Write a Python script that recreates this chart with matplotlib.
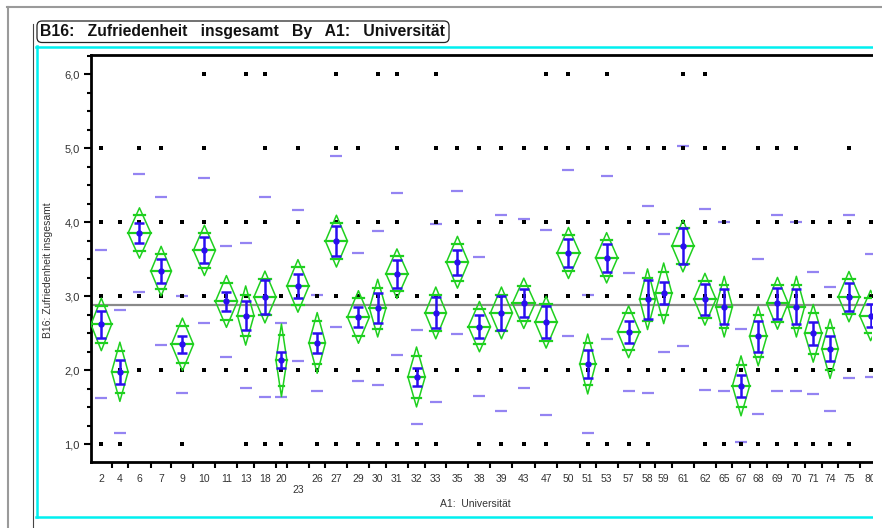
"""
JMP-style oneway plot: B16 Zufriedenheit insgesamt by A1 Universität.
"""

import numpy as np
import matplotlib.pyplot as plt
import matplotlib.patches as mpatches
from matplotlib.lines import Line2D
from matplotlib.transforms import IdentityTransform
from matplotlib.ticker import MultipleLocator, FixedLocator

plt.rcParams["font.family"] = ["Liberation Sans", "DejaVu Sans"]

# ── Data ─────────────────────────────────────────────────────────────────────

universities = ["2", "4", "6", "7", "9", "10", "11", "13", "18", "20",
                "23", "26", "27", "29", "30", "31", "32", "33", "35", "38",
                "39", "43", "47", "50", "51", "53", "57", "58", "59", "61",
                "62", "65", "67", "68", "69", "70", "71", "74", "75", "80"]

group_n = [30, 24, 33, 30, 32, 32, 32, 24, 32, 16,
           32, 24, 32, 32, 24, 32, 25, 31, 32, 32,
           32, 33, 32, 33, 23, 32, 32, 23, 24, 32,
           32, 24, 25, 25, 31, 24, 25, 24, 31, 32]

means = [2.62, 1.98, 3.855, 3.34, 2.35, 3.62, 2.93, 2.74, 2.99, 2.135,
         3.14, 2.37, 3.745, 2.72, 2.84, 3.305, 1.91, 2.775, 3.46, 2.59,
         2.775, 2.905, 2.65, 3.585, 2.085, 3.52, 2.52, 2.96, 3.04, 3.68,
         2.96, 2.86, 1.79, 2.46, 2.905, 2.86, 2.50, 2.29, 2.995, 2.74]

# half height of the 95% mean diamonds
ci_half = [0.355, 0.40, 0.34, 0.335, 0.355, 0.34, 0.35, 0.40, 0.35, 0.49,
           0.355, 0.41, 0.35, 0.355, 0.39, 0.335, 0.405, 0.35, 0.35, 0.34,
           0.35, 0.34, 0.35, 0.345, 0.405, 0.34, 0.35, 0.41, 0.41, 0.35,
           0.35, 0.41, 0.405, 0.40, 0.35, 0.41, 0.39, 0.40, 0.34, 0.34]

# mean error bars (std error)
se_half = [0.18, 0.16, 0.14, 0.16, 0.115, 0.175, 0.13, 0.19, 0.23, 0.11,
           0.165, 0.13, 0.205, 0.13, 0.20, 0.19, 0.12, 0.21, 0.17, 0.16,
           0.23, 0.19, 0.22, 0.19, 0.19, 0.19, 0.145, 0.265, 0.15, 0.245,
           0.21, 0.24, 0.15, 0.21, 0.21, 0.24, 0.155, 0.17, 0.19, 0.15]

std_dev = [1.0, 0.83, 0.795, 1.0, 0.66, 0.975, 0.75, 0.985, 1.345, 0.50,
           1.02, 0.645, 1.155, 0.865, 1.045, 1.095, 0.64, 1.205, 0.965, 0.94,
           1.32, 1.14, 1.25, 1.12, 0.93, 1.10, 0.80, 1.26, 0.795, 1.345,
           1.22, 1.14, 0.765, 1.045, 1.19, 1.14, 0.825, 0.84, 1.105, 0.835]

# answer levels present in each group
responses = [[1, 3, 4, 5], [1, 2, 3, 4], [2, 3, 4, 5], [2, 3, 4, 5],
             [1, 2, 3, 4], [2, 3, 4, 5, 6], [2, 3, 4], [1, 2, 3, 4, 6],
             [1, 2, 3, 4, 5, 6], [1, 2, 3], [2, 3, 4, 5], [1, 2, 3],
             [1, 2, 3, 4, 5, 6], [1, 2, 3, 4, 5], [1, 2, 3, 4, 6],
             [1, 2, 3, 4, 5, 6], [1, 2, 3], [1, 2, 3, 4, 5, 6], [2, 3, 4, 5],
             [1, 2, 3, 4, 5], [1, 2, 3, 4, 5], [1, 2, 3, 4, 5],
             [1, 2, 3, 4, 5, 6], [2, 3, 4, 5, 6], [1, 2, 3, 4, 5],
             [1, 2, 3, 4, 5, 6], [1, 2, 3, 4, 5], [1, 2, 3, 4, 5], [2, 3, 4, 5],
             [2, 3, 4, 5, 6], [1, 2, 3, 4, 5, 6], [1, 2, 3, 4, 5], [1, 2, 3],
             [1, 2, 3, 4, 5], [1, 2, 3, 4, 5], [1, 2, 3, 4, 5], [1, 2, 3, 4],
             [1, 2, 3, 4], [1, 2, 3, 4, 5], [2, 3, 4]]

grand_mean = 2.886

y_ticks = [1, 2, 3, 4, 5, 6]
y_ticklabels = ["1,0", "2,0", "3,0", "4,0", "5,0", "6,0"]

# ── Colours ──────────────────────────────────────────────────────────────────

GREEN    = "#1fd01f"
BLUE     = "#2a0ef0"
LAVENDER = "#9484f2"
CYAN     = "#00f0f0"
GRAY     = "#8a8a8a"
TEXT     = "#333333"

# ── Figure ───────────────────────────────────────────────────────────────────

W, H = 882, 528


def fx(px):
    return px / W


def fy(py):
    return 1 - py / H


fig = plt.figure(figsize=(W / 100, H / 100), dpi=100)
fig.patch.set_facecolor("white")
ax = fig.add_axes([fx(91), fy(462), fx(872) - fx(91), fy(55) - fy(462)])

edges = np.concatenate([[0], np.cumsum(group_n)])
centers = (edges[:-1] + edges[1:]) / 2
m = np.array(means)

# std dev lines
ax.plot(centers, m + np.array(std_dev), ls="none", marker="_", ms=8,
        mew=1.6, color=LAVENDER, zorder=2)
ax.plot(centers, m - np.array(std_dev), ls="none", marker="_", ms=8,
        mew=1.6, color=LAVENDER, zorder=2)

# raw responses
for c, lv in zip(centers, responses):
    ax.plot([c] * len(lv), lv, ls="none", marker="s", ms=2.4, mew=0,
            color="black", zorder=3)

# grand mean
ax.axhline(grand_mean, color=GRAY, lw=1.6, zorder=1.5)

# mean diamonds
for x0, x1, mu, ci in zip(edges[:-1], edges[1:], means, ci_half):
    xc = (x0 + x1) / 2
    w = x1 - x0
    ax.plot([x0, xc, x1, xc, x0], [mu, mu + ci, mu, mu - ci, mu],
            color=GREEN, lw=1.1, zorder=4)
    ax.plot([x0, x1], [mu, mu], color=GREEN, lw=1.6, zorder=4)
    ov = ci / np.sqrt(2)
    for yy in (mu + ov, mu - ov):
        ax.plot([xc - w * 0.26, xc + w * 0.26], [yy, yy],
                color=GREEN, lw=1.6, zorder=4)

# mean error bars
ax.errorbar(centers, means, yerr=se_half, fmt="none", ecolor=BLUE,
            elinewidth=1.8, capsize=3.5, capthick=1.8, zorder=5)
ax.plot(centers, means, ls="none", marker="o", ms=4.6, mew=0,
        color=BLUE, zorder=6)

ax.set_xlim(0, 1136)
ax.set_ylim(0.761, 6.26)

# axes styling
for side in ("left", "top", "bottom"):
    ax.spines[side].set_linewidth(2.0)
    ax.spines[side].set_color("black")
ax.spines["right"].set_visible(False)

ax.yaxis.set_major_locator(FixedLocator(y_ticks))
ax.set_yticklabels(y_ticklabels, fontsize=8, color=TEXT)
ax.yaxis.set_minor_locator(MultipleLocator(0.25))
ax.tick_params(axis="y", which="major", length=5, width=1.5, pad=3)
ax.tick_params(axis="y", which="minor", length=3, width=1.5)

ax.xaxis.set_major_locator(FixedLocator(edges[1:-1]))
ax.xaxis.set_major_formatter(plt.NullFormatter())
ax.xaxis.set_minor_locator(FixedLocator(centers))
ax.set_xticklabels(["\n" + u if u == "23" else u for u in universities],
                   minor=True, fontsize=7.5, color=TEXT)
ax.tick_params(axis="x", which="major", length=4.5, width=1.5)
ax.tick_params(axis="x", which="minor", length=0, pad=8.5)

fig.text(fx(48), fy(270), "B16: Zufriedenheit insgesamt", rotation=90,
         ha="center", va="center", fontsize=7.5, color=TEXT)
fig.text(fx(475), fy(504), "A1:  Universität", ha="center", va="center",
         fontsize=7.5, color=TEXT)

# ── Report frame ─────────────────────────────────────────────────────────────

ident = IdentityTransform()


def frame_line(xs, ys, color, lw):
    fig.add_artist(Line2D(xs, [H - y for y in ys], color=color, lw=lw,
                          transform=ident))


# hide what runs past the report's right edge
fig.add_artist(mpatches.Rectangle((873, H - 520), 9, 480, facecolor="white",
                                  edgecolor="none", transform=ident,
                                  zorder=10))

frame_line([7, 882], [6.5, 6.5], "#9a9a9a", 1.5)
frame_line([7.5, 7.5], [6.5, 528], "#9a9a9a", 1.5)
frame_line([33, 33], [24, 528], "#444444", 0.8)
frame_line([36, 872], [46.5, 46.5], CYAN, 1.8)
frame_line([36.5, 36.5], [46, 517], CYAN, 1.8)
frame_line([36, 872], [517, 517], CYAN, 1.8)

title_box = mpatches.FancyBboxPatch(
    (37, H - 42.5), 412, 21.5,
    boxstyle="round,pad=0,rounding_size=5",
    facecolor="white", edgecolor="#222222", linewidth=0.9,
    transform=ident)
fig.add_artist(title_box)
fig.text(fx(40), fy(31.5),
         "B16:   Zufriedenheit   insgesamt   By   A1:   Universität",
         fontsize=11.3, fontweight="bold", va="center", color="#111111")

fig.savefig("out.png", dpi=100, facecolor="white")
